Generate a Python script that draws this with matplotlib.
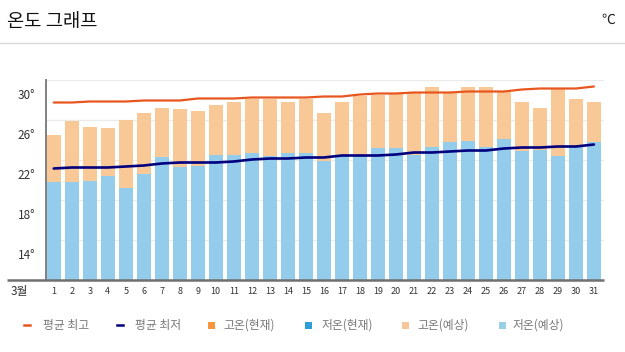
import matplotlib
matplotlib.use("Agg")
import matplotlib.pyplot as plt
from matplotlib.lines import Line2D
from matplotlib.patches import Rectangle
from matplotlib.transforms import blended_transform_factory

plt.rcParams['font.family'] = ['Noto Sans CJK KR', 'DejaVu Sans']

days = list(range(1, 32))
day_labels = [str(d) for d in days]
month_label = "3월"

high_forecast = [26.5, 27.9, 27.3, 27.2, 28.0, 28.7, 29.2, 29.1, 28.9, 29.5,
                 29.8, 30.1, 30.1, 29.8, 30.1, 28.7, 29.8, 30.4, 30.5, 30.6,
                 30.7, 31.3, 30.7, 31.3, 31.3, 30.8, 29.8, 29.2, 31.2, 30.1, 29.8]
low_forecast = [21.8, 21.8, 21.9, 22.4, 21.2, 22.6, 24.3, 23.3, 23.4, 24.5,
                24.5, 24.7, 24.4, 24.7, 24.7, 23.9, 24.5, 24.5, 25.2, 25.2,
                24.5, 25.3, 25.8, 25.9, 25.3, 26.1, 24.9, 25.0, 24.4, 25.3, 25.8]
avg_high = [29.7, 29.7, 29.8, 29.8, 29.8, 29.9, 29.9, 29.9, 30.1, 30.1,
            30.1, 30.2, 30.2, 30.2, 30.2, 30.3, 30.3, 30.5, 30.6, 30.6,
            30.7, 30.7, 30.7, 30.8, 30.8, 30.8, 31.0, 31.1, 31.1, 31.1, 31.3]
avg_low = [23.1, 23.2, 23.2, 23.2, 23.3, 23.4, 23.6, 23.7, 23.7, 23.7,
           23.8, 24.0, 24.1, 24.1, 24.2, 24.2, 24.4, 24.4, 24.4, 24.5,
           24.7, 24.7, 24.8, 24.9, 24.9, 25.1, 25.2, 25.2, 25.3, 25.3, 25.5]
y_labels = [14, 18, 22, 26, 30]
grid_values = [16, 20, 24, 28, 32]
legend_labels = ["평균 최고", "평균 최저", "고온(현재)", "저온(현재)", "고온(예상)", "저온(예상)"]

C_HIGH_LINE = "#e8561e"
C_LOW_LINE = "#00007f"
C_HIGH_NOW = "#f7963f"
C_LOW_NOW = "#2f9ed8"
C_HIGH_FC = "#f8c896"
C_LOW_FC = "#93cdeb"

W, H = 625, 352
fig = plt.figure(figsize=(W / 100, H / 100), dpi=100)
fig.patch.set_facecolor("white")

def fx(px):
    return px / W

def fy(py):
    return 1 - py / H

ax_left, ax_right, ax_top, ax_bottom = 46, 604, 79.5, 279.5
ax = fig.add_axes([fx(ax_left), fy(ax_bottom), (ax_right - ax_left) / W, (ax_bottom - ax_top) / H])
ax.set_xlim(0.57, 31.56)
ax.set_ylim(12, 32)

for g in grid_values:
    ax.axhline(g, color="#ebebeb", lw=1.0, zorder=0)

ax.bar(days, high_forecast, width=0.78, color=C_HIGH_FC, zorder=1)
ax.bar(days, low_forecast, width=0.78, color=C_LOW_FC, zorder=2)
ax.plot(days, avg_high, color=C_HIGH_LINE, lw=1.6, zorder=3, solid_capstyle="round")
ax.plot(days, avg_low, color=C_LOW_LINE, lw=1.9, zorder=3, solid_capstyle="round")

for s in ["top", "right", "bottom"]:
    ax.spines[s].set_visible(False)
ax.spines["left"].set_color("#808080")
ax.spines["left"].set_linewidth(1.4)

# baseline extending left
ax.plot([-0.07, 1.0], [0, 0], transform=ax.transAxes, color="#707070", lw=1.8,
        clip_on=False, zorder=4, solid_capstyle="butt")

ax.set_yticks([])
trans = blended_transform_factory(ax.transAxes, ax.transData)
for v in y_labels:
    ax.text(-0.02, v + 0.4, f"{v}°", transform=trans, ha="right", va="center",
            fontsize=8.5, color="#333333")

ax.set_xticks(days)
ax.set_xticklabels(day_labels, fontsize=6.5, color="#333333")
ax.tick_params(axis="x", length=0, pad=5.5)

fig.text(fx(19), fy(292), month_label, ha="center", va="center", fontsize=8.5, color="#333333")

# title and unit
fig.text(fx(7), fy(21), "온도 그래프", ha="left", va="center", fontsize=13.5, color="#111111")
fig.text(fx(608), fy(20), "℃", ha="center", va="center", fontsize=10, color="#222222")
fig.add_artist(Line2D([0, 1], [fy(43), fy(43)], transform=fig.transFigure, color="#d8d8d8", lw=1.0))

# legend
leg_y = 325
marker_x = [27, 120, 211, 308.5, 405, 502]
text_x = [43, 135, 223, 322, 417, 513]
kinds = ["line", "line", "sq", "sq", "sq", "sq"]
colors = [C_HIGH_LINE, C_LOW_LINE, C_HIGH_NOW, C_LOW_NOW, "#f8c69b", "#9ad0e6"]
for mx, tx, k, c, lab in zip(marker_x, text_x, kinds, colors, legend_labels):
    if k == "line":
        fig.add_artist(Line2D([fx(mx - 3), fx(mx + 3)], [fy(leg_y), fy(leg_y)],
                              transform=fig.transFigure, color=c, lw=1.8))
    else:
        fig.add_artist(Rectangle((fx(mx - 3.5), fy(leg_y + 3.5)), 7 / W, 7 / H,
                                 transform=fig.transFigure, color=c, lw=0))
    fig.text(fx(tx), fy(leg_y), lab, ha="left", va="center", fontsize=8.5, color="#777777")

fig.savefig("out.png", dpi=100)
